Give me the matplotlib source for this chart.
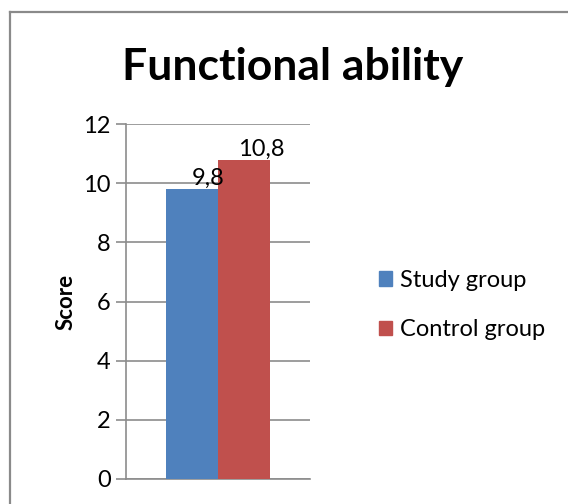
import matplotlib
matplotlib.use("Agg")
import matplotlib.pyplot as plt
from matplotlib.lines import Line2D
from matplotlib.patches import Patch

groups = ["Study group", "Control group"]
scores = [9.8, 10.8]
score_labels = ["9,8", "10,8"]
colors = ["#4F81BD", "#C0504D"]
y_ticks = [0, 2, 4, 6, 8, 10, 12]

FONT = "Lato"
GRID = "#8C8C8C"


def main():
    fig = plt.figure(figsize=(5.68, 5.04), dpi=100)
    ax = fig.add_axes([126 / 568, 1 - 478.7 / 504, 184 / 568, 354.4 / 504])

    width = 0.285
    offsets = [-width / 2, width / 2]
    for off, val, lab, col in zip(offsets, scores, score_labels, colors):
        ax.bar(off, val, width=width, color=col, zorder=3)
        ax.annotate(lab, (off, val), xytext=(12, 0), textcoords="offset points",
                    ha="center", va="bottom", fontsize=17, family=FONT, zorder=4)

    ax.set_xlim(-0.5, 0.5)
    ax.set_ylim(0, 12)
    ax.set_yticks(y_ticks)
    ax.set_xticks([])
    ax.yaxis.grid(True, color=GRID, linewidth=1.2, zorder=0)
    for s in ["top", "right"]:
        ax.spines[s].set_visible(False)
    ax.spines["left"].set_color(GRID)
    ax.spines["bottom"].set_color(GRID)
    ax.spines["left"].set_linewidth(1.2)
    ax.spines["bottom"].set_linewidth(1.2)
    ax.tick_params(axis="y", length=7, width=1.2, color=GRID, pad=4,
                   labelsize=17)
    for t in ax.get_yticklabels():
        t.set_family(FONT)
    ax.set_ylabel("Score", fontsize=16, fontweight="bold", family=FONT, labelpad=5)

    fig.text(293 / 568, 1 - 80 / 504, "Functional ability", ha="center",
             va="baseline", fontsize=32, fontweight="bold", family=FONT)

    handles = [Patch(color=c) for c in colors]
    fig.legend(handles, groups, loc="center left", frameon=False,
               bbox_to_anchor=(358 / 568, 1 - 305 / 504),
               prop={"family": FONT, "size": 17},
               handlelength=0.55, handleheight=0.55, handletextpad=0.35,
               labelspacing=1.2)

    # chart area frame (top and left edges)
    fig.add_artist(Line2D([9.5 / 568, 1], [1 - 12 / 504, 1 - 12 / 504],
                          transform=fig.transFigure, color="#8A8A8A", linewidth=1.6))
    fig.add_artist(Line2D([9.5 / 568, 9.5 / 568], [0, 1 - 12 / 504],
                          transform=fig.transFigure, color="#8A8A8A", linewidth=1.6))

    fig.savefig("out.png", dpi=100)


if __name__ == "__main__":
    main()
